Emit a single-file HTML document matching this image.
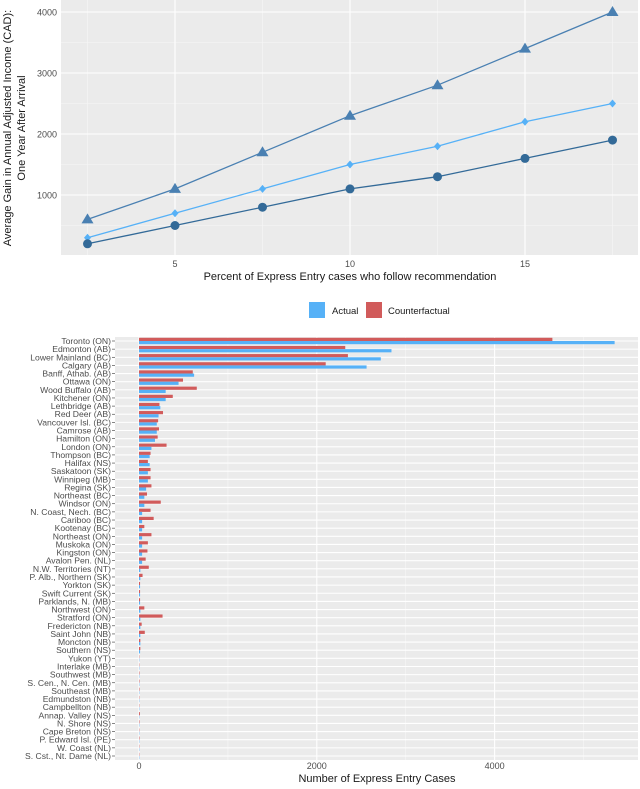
<!DOCTYPE html>
<html><head><meta charset="utf-8"><style>
body{margin:0;background:#fff;font-family:"Liberation Sans",sans-serif}
svg{display:block}
</style></head><body>
<svg id="s" width="640" height="789" xmlns="http://www.w3.org/2000/svg" font-family="Liberation Sans, sans-serif"></svg>
<script>
// ---- top line chart data ----
const pctX=[2.5,5,7.5,10,12.5,15,17.5];
const triVals=[600,1100,1700,2300,2800,3400,4000];
const diaVals=[300,700,1100,1500,1800,2200,2500];
const cirVals=[200,500,800,1100,1300,1600,1900];
const xTicks=[5,10,15];
const yTicks=[1000,2000,3000,4000];
// ---- bar chart data ----
const regions=["Toronto (ON)","Edmonton (AB)","Lower Mainland (BC)","Calgary (AB)","Banff, Athab. (AB)","Ottawa (ON)","Wood Buffalo (AB)","Kitchener (ON)","Lethbridge (AB)","Red Deer (AB)","Vancouver Isl. (BC)","Camrose (AB)","Hamilton (ON)","London (ON)","Thompson (BC)","Halifax (NS)","Saskatoon (SK)","Winnipeg (MB)","Regina (SK)","Northeast (BC)","Windsor (ON)","N. Coast, Nech. (BC)","Cariboo (BC)","Kootenay (BC)","Northeast (ON)","Muskoka (ON)","Kingston (ON)","Avalon Pen. (NL)","N.W. Territories (NT)","P. Alb., Northern (SK)","Yorkton (SK)","Swift Current (SK)","Parklands, N. (MB)","Northwest (ON)","Stratford (ON)","Fredericton (NB)","Saint John (NB)","Moncton (NB)","Southern (NS)","Yukon (YT)","Interlake (MB)","Southwest (MB)","S. Cen., N. Cen. (MB)","Southeast (MB)","Edmundston (NB)","Campbellton (NB)","Annap. Valley (NS)","N. Shore (NS)","Cape Breton (NS)","P. Edward Isl. (PE)","W. Coast (NL)","S. Cst., Nt. Dame (NL)"];
const counterVals=[4650,2320,2350,2100,605,495,650,380,230,270,215,225,210,310,130,100,130,130,140,90,245,130,165,60,140,100,95,75,110,40,12,12,12,60,265,30,65,15,15,3,3,5,5,5,3,3,10,5,3,5,3,3];
const actualVals=[5350,2840,2720,2560,620,445,300,300,240,220,200,200,180,140,120,120,100,100,80,60,60,35,35,35,35,35,35,35,15,15,12,12,12,15,15,15,15,15,12,3,3,3,3,3,3,3,3,3,3,3,3,3];
const barTicks=[0,2000,4000];

const NS="http://www.w3.org/2000/svg",S=document.getElementById('s');
function el(t,a,p){const e=document.createElementNS(NS,t);for(const k in a)e.setAttribute(k,a[k]);(p||S).appendChild(e);return e;}

// ===== top chart =====
const L={l:61,r:638,t:0,b:255};
const sx=v=>175+(v-5)*35, sy=v=>195-(v-1000)*0.061;
let e=el('rect',{x:L.l,y:L.t,width:L.r-L.l,height:L.b-L.t,fill:'#ebebeb'});

[500,1500,2500,3500].forEach(v=>el('line',{x1:L.l,x2:L.r,y1:sy(v),y2:sy(v),stroke:'#f7f7f7','stroke-width':0.6}));
[2.5,7.5,12.5,17.5].forEach(v=>el('line',{x1:sx(v),x2:sx(v),y1:L.t,y2:L.b,stroke:'#f7f7f7','stroke-width':0.6}));
yTicks.forEach(v=>{el('line',{x1:L.l,x2:L.r,y1:sy(v),y2:sy(v),stroke:'#fff','stroke-width':1.1});
 const t=el('text',{x:L.l-4,y:sy(v)+3.5,'font-size':9,fill:'#4d4d4d','text-anchor':'end'});t.textContent=v;
 });
xTicks.forEach(v=>{el('line',{x1:sx(v),x2:sx(v),y1:L.t,y2:L.b,stroke:'#fff','stroke-width':1.1});
 const t=el('text',{x:sx(v),y:L.b+12,'font-size':9,fill:'#4d4d4d','text-anchor':'middle'});t.textContent=v;
 });
function series(vals,col,shape,name){
 const g=el('g',{});
 el('polyline',{points:vals.map((v,i)=>sx(pctX[i])+','+sy(v)).join(' '),fill:'none',stroke:col,'stroke-width':1.3},g);
 vals.forEach((v,i)=>{const x=sx(pctX[i]),y=sy(v);let m;
  if(shape=='tri')m=el('polygon',{points:`${x},${y-6} ${x-6},${y+4} ${x+6},${y+4}`,fill:col},g);
  else if(shape=='dia')m=el('polygon',{points:`${x},${y-4} ${x-3.5},${y} ${x},${y+4} ${x+3.5},${y}`,fill:col},g);
  else m=el('circle',{cx:x,cy:y,r:4.5,fill:col},g);
  });
}
series(triVals,'#4a80b2','tri','series-triangle');
series(diaVals,'#56b1f7','dia','series-diamond');
series(cirVals,'#336a98','cir','series-circle');
let t=el('text',{x:350,y:280,'font-size':11,fill:'#1a1a1a','text-anchor':'middle'});t.textContent='Percent of Express Entry cases who follow recommendation';

t=el('text',{transform:'translate(11,128) rotate(-90)','font-size':11,fill:'#1a1a1a','text-anchor':'middle'});
t.innerHTML='<tspan x="0" dy="0">Average Gain in Annual Adjusted Income (CAD):</tspan><tspan x="0" dy="14">One Year After Arrival</tspan>';

// legend
e=el('rect',{x:309,y:302,width:16,height:16,fill:'#56b1f7'});
t=el('text',{x:332,y:314,'font-size':9.5,fill:'#1a1a1a'});t.textContent='Actual';
e=el('rect',{x:366,y:302,width:16,height:16,fill:'#d15b5b'});
t=el('text',{x:388,y:314,'font-size':9.5,fill:'#1a1a1a'});t.textContent='Counterfactual';

// ===== bar chart =====
const B={l:115,r:638,t:337,b:760};
const bx=v=>139+v*0.0889;
const step=(756-341)/(regions.length-1), by=i=>341+i*step;
e=el('rect',{x:B.l,y:B.t,width:B.r-B.l,height:B.b-B.t,fill:'#ebebeb'});

[1000,3000,5000].forEach(v=>el('line',{x1:bx(v),x2:bx(v),y1:B.t,y2:B.b,stroke:'#f7f7f7','stroke-width':0.6}));
barTicks.forEach(v=>{el('line',{x1:bx(v),x2:bx(v),y1:B.t,y2:B.b,stroke:'#fff','stroke-width':1.1});
 const tt=el('text',{x:bx(v),y:B.b+9,'font-size':9,fill:'#4d4d4d','text-anchor':'middle'});tt.textContent=v;
 });
regions.forEach((r,i)=>{const y=by(i);
 el('line',{x1:B.l,x2:B.r,y1:y,y2:y,stroke:'#fff','stroke-width':1.1});
 el('line',{x1:B.l-3,x2:B.l,y1:y,y2:y,stroke:'#333','stroke-width':0.6});
 const tt=el('text',{x:B.l-4,y:y+3,'font-size':8.6,fill:'#4d4d4d','text-anchor':'end'});tt.textContent=r;
 
 let b=el('rect',{x:bx(0),y:y-3.2,width:Math.max(0.3,bx(counterVals[i])-bx(0)),height:3.2,fill:'#d15b5b'});
 
 b=el('rect',{x:bx(0),y:y,width:Math.max(0.3,bx(actualVals[i])-bx(0)),height:3.2,fill:'#56b1f7'});
 
});
t=el('text',{x:377,y:782,'font-size':11,fill:'#1a1a1a','text-anchor':'middle'});t.textContent='Number of Express Entry Cases';

</script>
</body></html>
